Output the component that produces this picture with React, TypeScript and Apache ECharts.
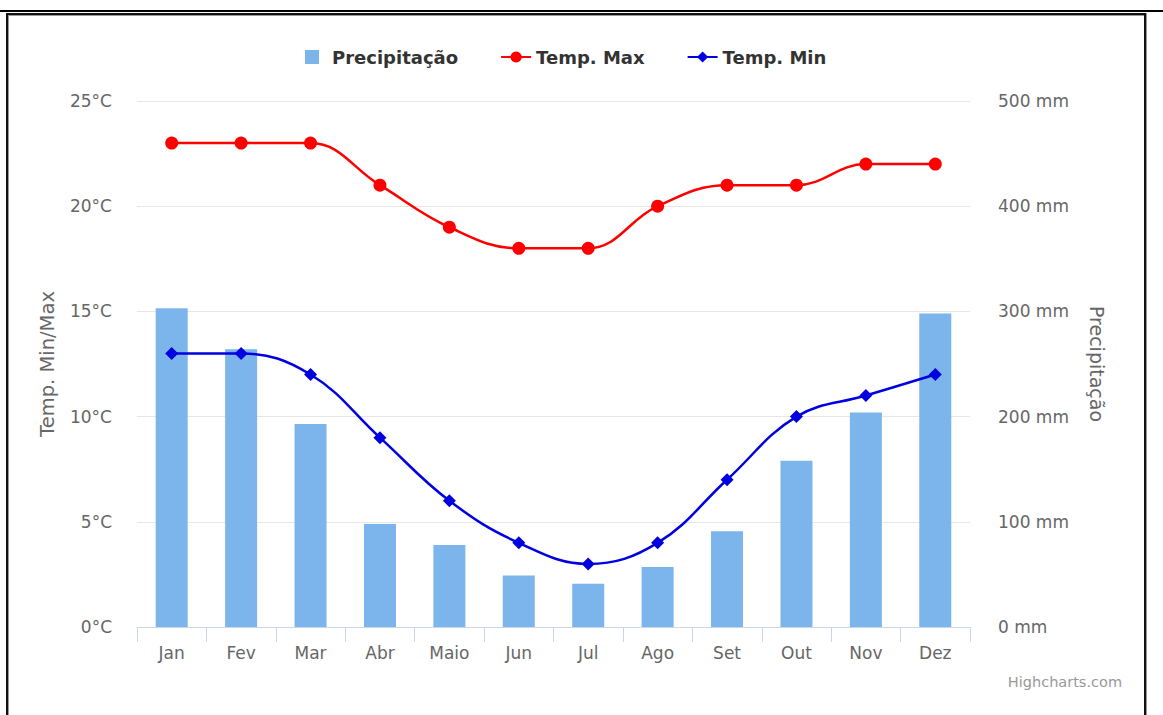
import React, { useEffect, useRef } from "react";
import * as echarts from "echarts";

const months = ["Jan", "Fev", "Mar", "Abr", "Maio", "Jun", "Jul", "Ago", "Set", "Out", "Nov", "Dez"];
const precipitation = [303, 264, 193, 98, 78, 49, 41, 57, 91, 158, 204, 298];
const tempMax = [23, 23, 23, 21, 19, 18, 18, 20, 21, 21, 22, 22];
const tempMin = [13, 13, 12, 9, 6, 4, 3, 4, 7, 10, 11, 12];

const FONT = "DejaVu Sans";

export default function App() {
  const ref = useRef<HTMLDivElement>(null);
  useEffect(() => {
    if (!ref.current) return;
    const chart = echarts.init(ref.current, undefined, { renderer: "svg" });
    chart.setOption({
      animation: false,
      textStyle: { fontFamily: FONT },
      legend: {
        top: 43,
        left: 300,
        itemGap: 42,
        itemWidth: 30,
        itemHeight: 14,
        textStyle: { fontFamily: FONT, fontSize: 18, fontWeight: "bold", color: "#333" },
        data: [
          { name: "Precipitação", icon: "path://M0,0H10V10H0Z" },
          { name: "Temp. Max" },
          { name: "Temp. Min" },
        ],
      },
      grid: { left: 137, right: 193, top: 101, bottom: 88, containLabel: false },
      xAxis: {
        type: "category",
        data: months,
        boundaryGap: true,
        axisLine: { lineStyle: { color: "#ccd6eb", width: 1 } },
        axisTick: { show: true, length: 15, alignWithLabel: false, lineStyle: { color: "#ccd6eb" } },
        axisLabel: { color: "#666", fontSize: 17, margin: 17, fontFamily: FONT },
      },
      yAxis: [
        {
          type: "value",
          min: 0,
          max: 25,
          interval: 5,
          name: "Temp. Min/Max",
          nameLocation: "middle",
          nameRotate: 90,
          nameGap: 80,
          nameTextStyle: { color: "#666", fontSize: 19.5, fontFamily: FONT },
          axisLabel: { formatter: "{value}°C", color: "#666", fontSize: 17, margin: 25, fontFamily: FONT },
          splitLine: { lineStyle: { color: "#e6e6e6", width: 1 } },
          axisLine: { show: false },
          axisTick: { show: false },
        },
        {
          type: "value",
          min: 0,
          max: 500,
          interval: 100,
          position: "right",
          name: "Precipitação",
          nameLocation: "middle",
          nameRotate: -90,
          nameGap: 117,
          nameTextStyle: { color: "#666", fontSize: 19, fontFamily: FONT },
          axisLabel: { formatter: "{value} mm", color: "#666", fontSize: 17, margin: 28, fontFamily: FONT },
          splitLine: { show: false },
          axisLine: { show: false },
          axisTick: { show: false },
        },
      ],
      series: [
        {
          name: "Precipitação",
          type: "bar",
          yAxisIndex: 1,
          data: precipitation,
          barWidth: 32,
          itemStyle: { color: "#7cb5ec" },
        },
        {
          name: "Temp. Max",
          type: "line",
          yAxisIndex: 0,
          data: tempMax,
          smooth: 0.4,
          symbol: "circle",
          symbolSize: 13,
          lineStyle: { color: "#ff0000", width: 2.5 },
          itemStyle: { color: "#ff0000" },
          z: 3,
        },
        {
          name: "Temp. Min",
          type: "line",
          yAxisIndex: 0,
          data: tempMin,
          smooth: 0.4,
          symbol: "diamond",
          symbolSize: 13,
          lineStyle: { color: "#0000e0", width: 2.5 },
          itemStyle: { color: "#0000e0" },
          z: 3,
        },
      ],
      graphic: [
        {
          type: "text",
          right: 41,
          top: 674,
          style: { text: "Highcharts.com", fill: "#999", fontSize: 14.5, fontFamily: FONT },
        },
      ],
    });
    return () => chart.dispose();
  }, []);
  return (
    <div style={{ position: "absolute", left: 0, top: 0, width: 1163, height: 715, overflow: "hidden", background: "#fff" }}>
      <div ref={ref} style={{ position: "absolute", left: 0, top: 0, width: 1163, height: 715 }} />
      <div style={{ position: "absolute", left: 0, top: 10, width: 1163, height: 2, background: "#000", pointerEvents: "none" }} />
      <div
        style={{
          position: "absolute",
          left: 6,
          top: 13,
          width: 1136,
          height: 720,
          border: "2px solid #111",
          boxShadow: "inset 1px 1px 0 #999, 1px 0 0 #999",
          pointerEvents: "none",
        }}
      />
    </div>
  );
}
